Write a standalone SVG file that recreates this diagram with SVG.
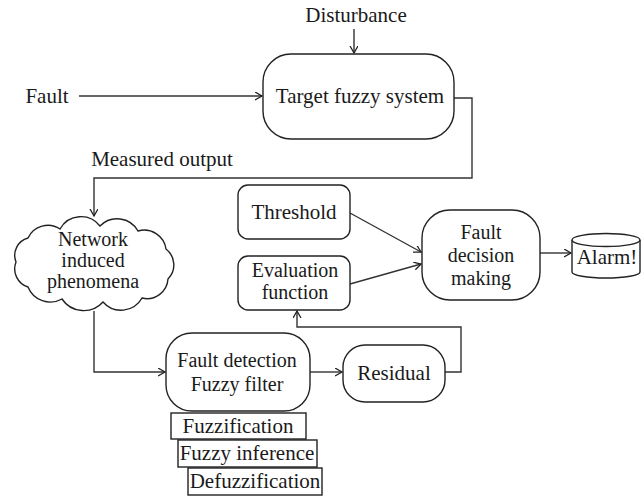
<svg xmlns="http://www.w3.org/2000/svg" width="641" height="496" viewBox="0 0 641 496">
<defs>
<marker id="arr" markerUnits="userSpaceOnUse" markerWidth="10" markerHeight="10" refX="7" refY="4" orient="auto">
<path d="M0,0 L7,4 L0,8" fill="none" stroke="#222" stroke-width="1.3"/>
</marker>
<style>
text{font-size:21px;fill:#1a1a1a;text-anchor:middle;font-family:"Liberation Serif","Times New Roman",serif}
.sm{font-size:20px}
.box{fill:#fff;stroke:#222;stroke-width:1.4}
.ln{fill:none;stroke:#333;stroke-width:1.4}
.arw{marker-end:url(#arr)}
</style>
</defs>
<rect width="641" height="496" fill="#fff"/>
<g id="connectors">
<path class="ln arw" d="M354,29 L354,53"/>
<path class="ln arw" d="M79,96 L262,96"/>
<path class="ln arw" d="M454,98 L472,98 L472,178 L94,178 L94,216"/>
<path class="ln arw" d="M94,311 L94,372 L165,372"/>
<path class="ln arw" d="M310,372 L342,372"/>
<path class="ln arw" d="M445,372 L461,372 L461,327 L297,327 L297,311"/>
<path class="ln arw" d="M350,213 L421,252"/>
<path class="ln arw" d="M350,284 L421,264"/>
<path class="ln arw" d="M540,253 L571,253"/>
</g>
<g id="disturbance"><text x="356" y="22">Disturbance</text></g>
<g id="fault"><text x="47" y="103">Fault</text></g>
<g id="measured-output"><text x="162" y="166">Measured output</text></g>
<g id="target">
<rect class="box" x="263" y="54" width="191" height="85" rx="28"/>
<text x="360" y="103">Target fuzzy system</text>
</g>
<g id="network">
<path class="box" d="M60,229 A24,24 0 0 1 100,226 A24,24 0 0 1 138,231 A22,22 0 0 1 166,249 A20,20 0 0 1 168,279 A21,21 0 0 1 142,298 A24,24 0 0 1 103,302 A26,26 0 0 1 62,299 A24,24 0 0 1 28,287 A19,19 0 0 1 16,262 A18,18 0 0 1 28,238 A22,22 0 0 1 60,229 Z"/>
<text class="sm" x="93" y="246">Network</text>
<text class="sm" x="93" y="267">induced</text>
<text class="sm" x="93" y="288">phenomena</text>
</g>
<g id="threshold">
<rect class="box" x="238" y="185" width="112" height="54" rx="10"/>
<text x="294" y="219">Threshold</text>
</g>
<g id="evaluation">
<rect class="box" x="238" y="256" width="112" height="54" rx="10"/>
<text class="sm" x="295" y="277">Evaluation</text>
<text class="sm" x="295" y="299">function</text>
</g>
<g id="decision">
<rect class="box" x="422" y="210" width="118" height="90" rx="28"/>
<text class="sm" x="481" y="239">Fault</text>
<text class="sm" x="481" y="262">decision</text>
<text class="sm" x="481" y="285">making</text>
</g>
<g id="alarm">
<path class="box" d="M572,240 L572,272 A34,6 0 0 0 640,272 L640,240"/>
<ellipse class="box" cx="606" cy="240" rx="34" ry="6.5"/>
<text x="607" y="264">Alarm!</text>
</g>
<g id="filter">
<rect class="box" x="166" y="333" width="144" height="78" rx="26"/>
<text class="sm" x="237" y="367">Fault detection</text>
<text class="sm" x="237" y="391">Fuzzy filter</text>
</g>
<g id="residual">
<rect class="box" x="343" y="345" width="102" height="57" rx="22"/>
<text x="394" y="380">Residual</text>
</g>
<g id="fuzzification">
<rect class="box" x="171" y="413" width="135" height="26"/>
<text x="238" y="433">Fuzzification</text>
</g>
<g id="inference">
<rect class="box" x="178" y="440" width="139" height="27"/>
<text x="247" y="460">Fuzzy inference</text>
</g>
<g id="defuzzification">
<rect class="box" x="188" y="468" width="134" height="27"/>
<text x="255" y="488">Defuzzification</text>
</g>
</svg>
